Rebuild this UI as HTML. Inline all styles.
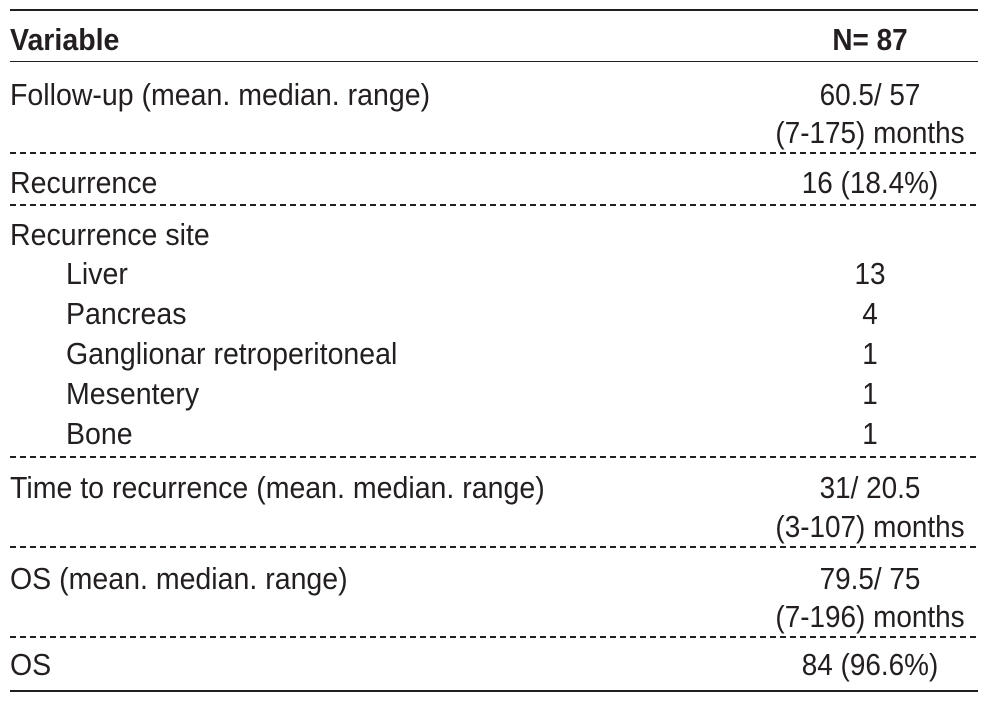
<!DOCTYPE html>
<html><head><meta charset="utf-8"><style>
body{margin:0;width:992px;height:704px;background:#fff;position:relative;overflow:hidden;font-family:"Liberation Sans",sans-serif;font-size:31px;color:#231f20}
.t{position:absolute;line-height:40px;white-space:nowrap;transform:scaleX(0.92);transform-origin:left center}
.r{position:absolute;left:760px;width:220px;text-align:center;line-height:40px;white-space:nowrap;transform:scaleX(0.9);transform-origin:center center}
.l{position:absolute;left:10px;width:968px;height:0}
.s{border-top:2px solid #231f20}
.d{height:2px;background:repeating-linear-gradient(90deg,#231f20 0 6px,transparent 6px 10px)}
b{font-weight:bold}
</style></head><body>
<div class="l s" style="top:9px"></div>
<div class="t" style="left:10px;top:20px"><b>Variable</b></div>
<div class="r" style="top:20px"><b>N= 87</b></div>
<div class="l s" style="top:61px;border-top-width:1.5px"></div>
<div class="t" style="left:10px;top:75px">Follow-up (mean. median. range)</div>
<div class="r" style="top:75px">60.5/ 57</div>
<div class="r" style="top:113px">(7-175) months</div>
<div class="l d" style="top:152px"></div>
<div class="t" style="left:10px;top:163px">Recurrence</div>
<div class="r" style="top:163px">16 (18.4%)</div>
<div class="l d" style="top:204px"></div>
<div class="t" style="left:10px;top:215px">Recurrence site</div>
<div class="t" style="left:66px;top:254px">Liver</div><div class="r" style="top:254px">13</div>
<div class="t" style="left:66px;top:294px">Pancreas</div><div class="r" style="top:294px">4</div>
<div class="t" style="left:66px;top:334px">Ganglionar retroperitoneal</div><div class="r" style="top:334px">1</div>
<div class="t" style="left:66px;top:374px">Mesentery</div><div class="r" style="top:374px">1</div>
<div class="t" style="left:66px;top:414px">Bone</div><div class="r" style="top:414px">1</div>
<div class="l d" style="top:456px"></div>
<div class="t" style="left:10px;top:468px">Time to recurrence (mean. median. range)</div>
<div class="r" style="top:468px">31/ 20.5</div>
<div class="r" style="top:507px">(3-107) months</div>
<div class="l d" style="top:546px"></div>
<div class="t" style="left:10px;top:559px">OS (mean. median. range)</div>
<div class="r" style="top:559px">79.5/ 75</div>
<div class="r" style="top:597px">(7-196) months</div>
<div class="l d" style="top:636px"></div>
<div class="t" style="left:10px;top:645px">OS</div>
<div class="r" style="top:645px">84 (96.6%)</div>
<div class="l s" style="top:690px"></div>
</body></html>
